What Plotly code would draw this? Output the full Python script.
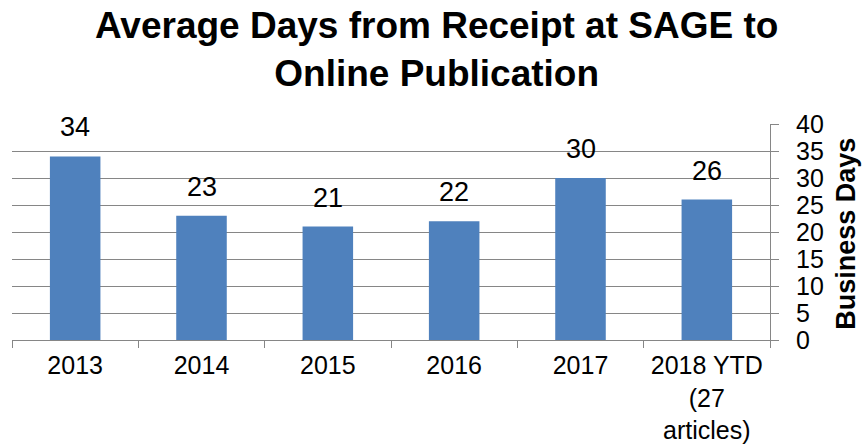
import plotly.graph_objects as go

categories = ["2013", "2014", "2015", "2016", "2017", "2018 YTD<br>(27<br>articles)"]
values = [34, 23, 21, 22, 30, 26]
y_ticks = [0, 5, 10, 15, 20, 25, 30, 35, 40]

FONT = "Liberation Sans, Arial, sans-serif"
GRID = "#868686"

fig = go.Figure()
fig.add_trace(go.Bar(x=categories, y=values, marker=dict(color="#4F81BD", line=dict(width=0)),
                     width=0.4, hoverinfo="x+y"))

for i, v in enumerate(values):
    fig.add_annotation(x=i, y=v, text=str(v), showarrow=False, yanchor="bottom", yshift=12,
                       font=dict(family=FONT, size=27, color="#000000"))

fig.add_annotation(xref="paper", yref="paper", x=1.0, xshift=76, xanchor="center",
                   y=0.492, yanchor="middle", text="<b>Business Days</b>",
                   textangle=-90, showarrow=False, font=dict(family=FONT, size=27, color="#000000"))

fig.update_layout(
    width=863, height=444,
    margin=dict(l=12, r=93, t=124, b=104, autoexpand=False),
    paper_bgcolor="white", plot_bgcolor="white",
    title=dict(text="<b>Average Days from Receipt at SAGE to<br>Online Publication</b>",
               x=0.506, xanchor="center", xref="container", y=0.914, yanchor="top",
               font=dict(family=FONT, size=37, color="#000000")),
    showlegend=False,
    bargap=0.6,
)
fig.update_xaxes(type="category", range=[-0.5, len(categories) - 0.5], showline=True,
                 linecolor=GRID, linewidth=1, ticks="outside", automargin=False,
                 tickson="boundaries", ticklen=7, tickcolor=GRID, ticklabelstandoff=3,
                 tickfont=dict(family=FONT, size=25, color="#000000"),
                 showgrid=False, fixedrange=True, tickangle=0)
fig.update_yaxes(side="right", range=[0, 40], tickvals=y_ticks, showline=True, linecolor=GRID,
                 linewidth=1, ticks="outside", ticklen=8, tickcolor=GRID, showgrid=True,
                 gridcolor=GRID, gridwidth=1, zeroline=False, automargin=False,
                 ticklabelstandoff=12,
                 tickfont=dict(family=FONT, size=25, color="#000000"), fixedrange=True)

fig.write_html("out.html", config={"displayModeBar": False},
               post_script="document.body.style.margin='0px';")
